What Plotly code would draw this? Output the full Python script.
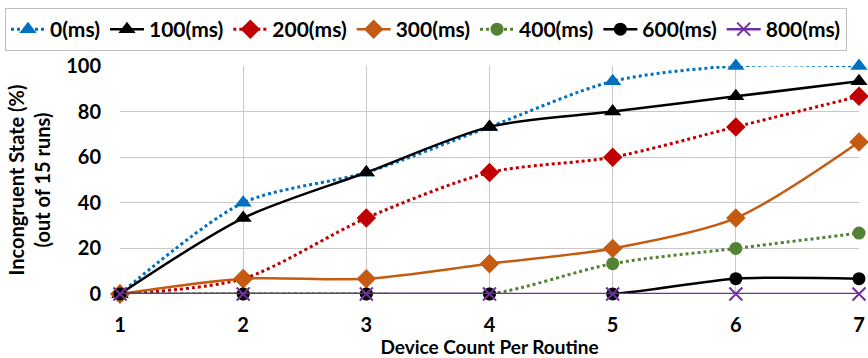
import plotly.graph_objects as go

devices = [1, 2, 3, 4, 5, 6, 7]
s0 = [0, 40, 53.3, 73.3, 93.3, 100, 100]
s100 = [0, 33.3, 53.3, 73.3, 80, 86.7, 93.3]
s200 = [0, 6.7, 33.3, 53.3, 60, 73.3, 86.7]
s300 = [0, 6.7, 6.7, 13.3, 20, 33.3, 66.7]
s400 = [0, 0, 0, 0, 13.3, 20, 26.7]
s600 = [0, 0, 0, 0, 0, 6.7, 6.7]
s800 = [0, 0, 0, 0, 0, 0, 0]
names = ["0(ms)", "100(ms)", "200(ms)", "300(ms)", "400(ms)", "600(ms)", "800(ms)"]
y_ticks = [0, 20, 40, 60, 80, 100]

styles = [
    (s0, "#0070C0", "dot", "triangle-up", 15),
    (s100, "#000000", "solid", "triangle-up", 15),
    (s200, "#C00000", "dot", "diamond", 15),
    (s300, "#C55A11", "solid", "diamond", 15),
    (s400, "#548235", "dot", "circle", 13),
    (s600, "#000000", "solid", "circle", 13),
    (s800, "#7030A0", "solid", "x-thin", 13),
]

fig = go.Figure()
for name, (vals, color, dash, sym, size) in zip(names, styles):
    mk = dict(symbol=sym, size=size, color=color)
    if sym == "x-thin":
        mk["line"] = dict(color=color, width=2)
    fig.add_trace(go.Scatter(
        x=devices, y=vals, name=name, mode="lines+markers",
        line=dict(color=color, dash=dash, width=2.5 if dash == "solid" else 3,
                  shape="spline", smoothing=0.8),
        marker=mk, cliponaxis=False,
    ))

W, H = 868, 358
L, R, T, B = 120, 9, 66, 64
pw, ph = W - L - R, H - T - B

fig.update_layout(
    width=W, height=H,
    margin=dict(l=L, r=R, t=T, b=B, autoexpand=False),
    paper_bgcolor="white", plot_bgcolor="white",
    font=dict(family="Lato", size=19, color="#000000", weight="bold"),
    legend=dict(orientation="h", x=(5 - L) / pw, xanchor="left",
                y=(H - B - 8) / ph, yanchor="top",
                xref="paper", yref="paper",
                bordercolor="#BFBFBF", borderwidth=1, bgcolor="white",
                font=dict(size=21, weight="bold"), itemwidth=34),
    showlegend=True,
)
fig.update_xaxes(range=[1, 7], tickvals=devices, showgrid=True, gridcolor="#C8C8C8", gridwidth=1,
                 zeroline=False, showline=False, ticks="", ticklabelstandoff=17,
                 tickfont=dict(size=20, weight="bold"),
                 title=dict(text="Device Count Per Routine", font=dict(size=19, weight="bold"), standoff=3))
fig.update_yaxes(range=[0, 100], tickvals=y_ticks, showgrid=True, gridcolor="#C8C8C8",
                 gridwidth=1, zeroline=False, showline=False, ticks="", ticklabelstandoff=18,
                 tickfont=dict(size=20, weight="bold"),
                 title=dict(text="Incongruent State (%)<br>(out of 15 runs)",
                            font=dict(size=20, weight="bold"), standoff=10))

fig.write_html("out.html")
